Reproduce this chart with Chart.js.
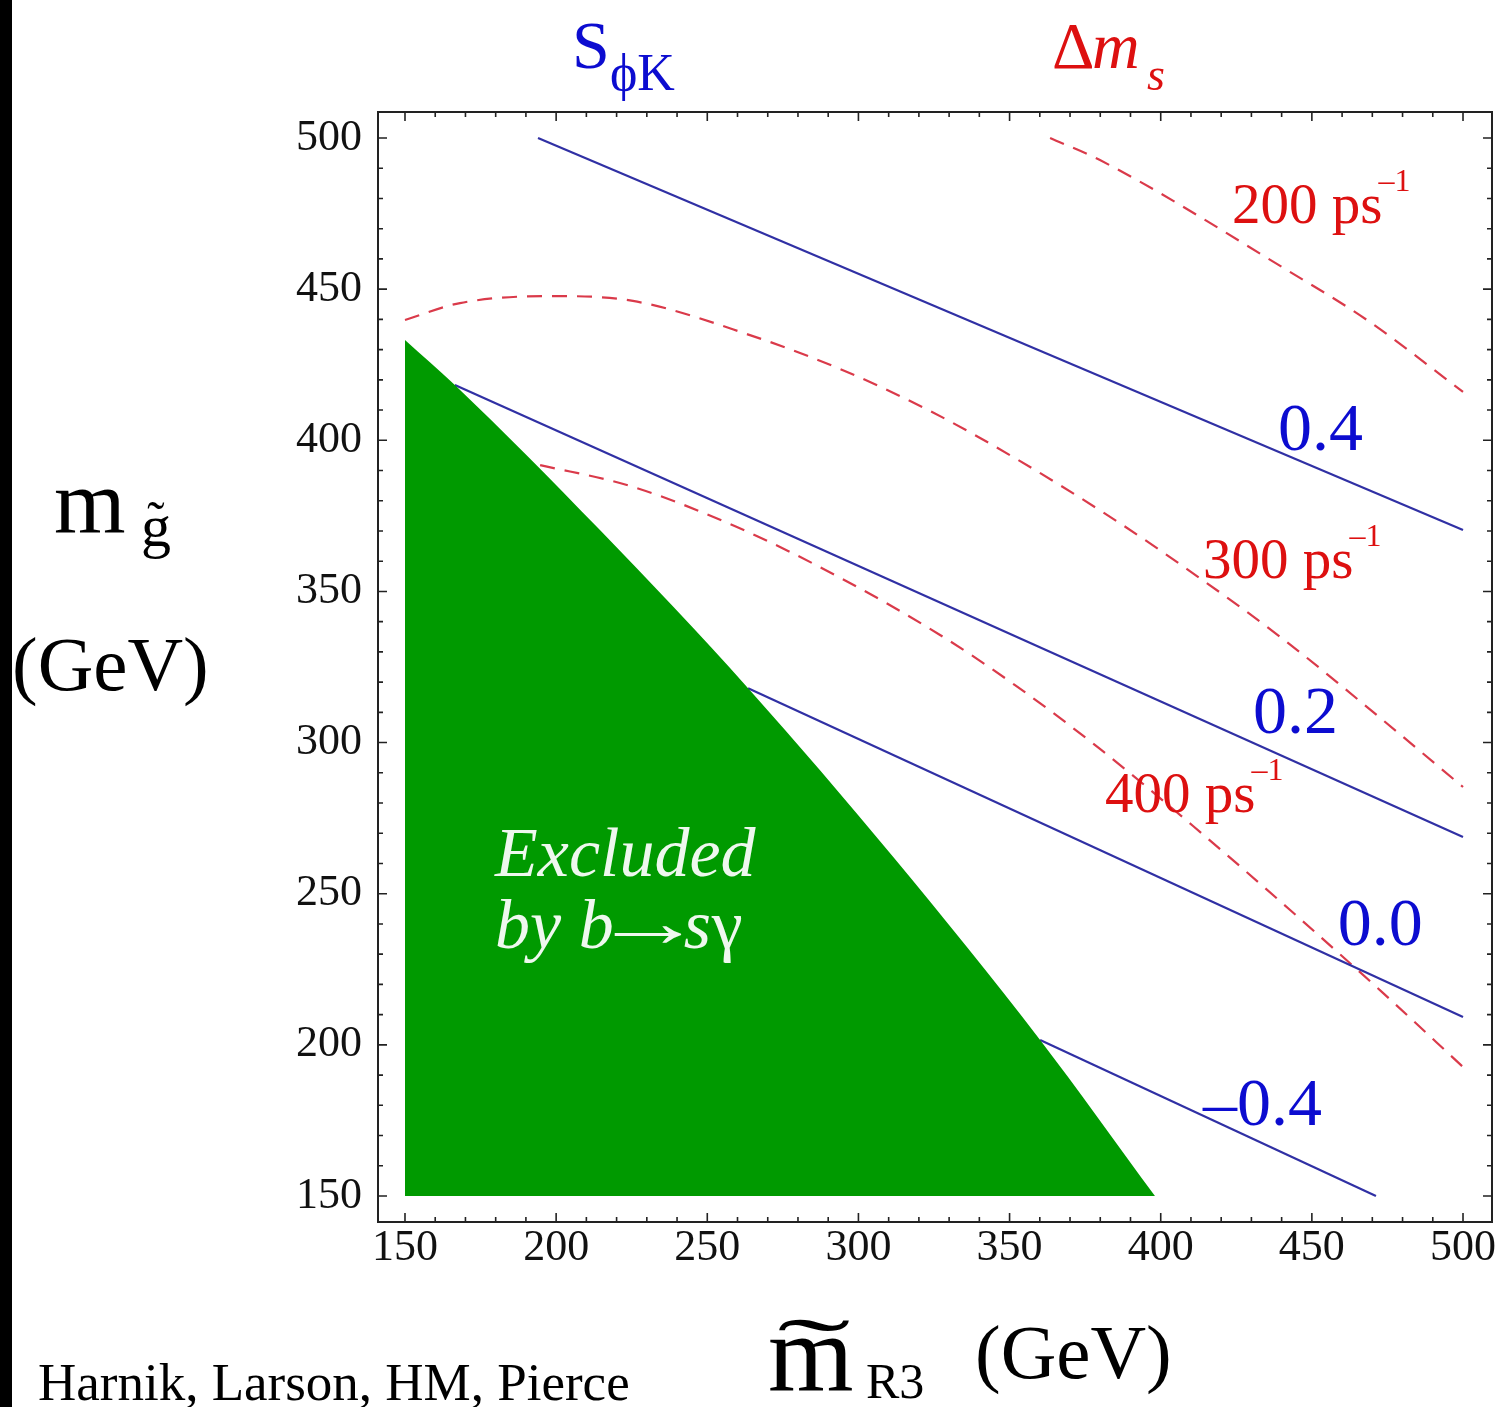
<!DOCTYPE html>
<html><head><meta charset="utf-8">
<script src="https://cdn.jsdelivr.net/npm/chart.js@4.4.1/dist/chart.umd.min.js"></script>
<style>html,body{margin:0;padding:0;background:#fff;overflow:hidden;} canvas{display:block;}</style>
</head><body>
<canvas id="c" width="1500" height="1407"></canvas>
<script>
// ---------- data ----------
const xTickLabels = [150, 200, 250, 300, 350, 400, 450, 500];
const yTickLabels = [150, 200, 250, 300, 350, 400, 450, 500];

// region excluded by b -> s gamma (upper boundary)
const excludedX = [150, 166.5, 214.5, 263.5, 311.8, 360.1, 398.1];
const excludedY = [433.2, 418.3, 370.3, 318.0, 261.8, 201.6, 150];

// S_phiK contours (solid blue)
const sPos04X = [194.0, 500];   const sPos04Y = [500, 370.3];
const sPos02X = [166.5, 500];   const sPos02Y = [418.3, 268.8];
const sZeroX  = [263.5, 500];   const sZeroY  = [318.0, 209.2];
const sNeg04X = [360.1, 471.2]; const sNeg04Y = [201.6, 150];

// Delta m_s contours (dashed red)
const dm200X = [363.4, 379.9, 441.8, 468.2, 500];
const dm200Y = [500, 492.7, 456.3, 439.8, 416.0];
const dm300X = [150, 168.2, 198.0, 225.4, 264.1, 293.9, 323.7, 351.8, 384.9, 408.7, 440.4, 472.2, 500];
const dm300Y = [439.8, 445.4, 447.7, 446.1, 434.8, 423.6, 409.7, 394.1, 373.6, 357.4, 334.3, 308.5, 285.3];
const dm400X = [194.7, 224.4, 259.8, 294.2, 327.0, 351.8, 379.9, 410.7, 442.8, 473.5, 500];
const dm400Y = [391.8, 384.9, 371.3, 354.4, 335.6, 319.0, 297.9, 272.4, 244.6, 217.2, 192.7];

// contour label anchors (data coords: left edge, baseline)
const sLabels  = [
  {text: '0.4',  x: 438.8, y: 396.8},
  {text: '0.2',  x: 430.5, y: 303.2},
  {text: '0.0',  x: 458.6, y: 233.0},
  {text: '\u20130.4', x: 414.0, y: 173.5}
];
const dmLabels = [
  {text: '200 ps', x: 423.6, y: 471.9},
  {text: '300 ps', x: 414.0, y: 354.4},
  {text: '400 ps', x: 381.6, y: 277.0}
];

// ---------- helpers ----------
const pts = (xs, ys) => xs.map((x, i) => ({x: x, y: ys[i]}));
const SERIF = "'Liberation Serif', 'DejaVu Serif', serif";
const BLUE_LINE = '#3030a4';
const RED_LINE = '#da3a4a';
const BLUE_TXT = '#0c0cd0';
const RED_TXT = '#dd1010';

function blueLine(xs, ys) {
  return {data: pts(xs, ys), borderColor: BLUE_LINE, borderWidth: 2.2, pointRadius: 0, fill: false, tension: 0};
}
function redDash(xs, ys) {
  return {data: pts(xs, ys), borderColor: RED_LINE, borderWidth: 2.2, borderDash: [15, 10], pointRadius: 0,
          fill: false, cubicInterpolationMode: 'monotone'};
}

const framePlugin = {
  id: 'frame',
  beforeDraw(chart) {
    const ctx = chart.ctx;
    ctx.save();
    ctx.fillStyle = '#fff';
    ctx.fillRect(0, 0, chart.width, chart.height);
    ctx.fillStyle = '#000';
    ctx.fillRect(0, 0, 12, chart.height);
    ctx.restore();
  },
  afterDatasetsDraw(chart) {
    const ctx = chart.ctx, a = chart.chartArea;
    const xs = chart.scales.x, ys = chart.scales.y;
    ctx.save();
    ctx.strokeStyle = '#222';
    ctx.lineWidth = 2;
    ctx.strokeRect(a.left, a.top, a.right - a.left, a.bottom - a.top);
    ctx.lineWidth = 1.6;
    ctx.beginPath();
    for (let v = 150; v <= 500; v += 10) {
      const len = (v % 50 === 0) ? 9 : 5;
      const px = xs.getPixelForValue(v);
      ctx.moveTo(px, a.bottom); ctx.lineTo(px, a.bottom - len);
      ctx.moveTo(px, a.top); ctx.lineTo(px, a.top + len);
      const py = ys.getPixelForValue(v);
      ctx.moveTo(a.left, py); ctx.lineTo(a.left + len, py);
      ctx.moveTo(a.right, py); ctx.lineTo(a.right - len, py);
    }
    ctx.stroke();
    ctx.restore();
  },
  afterDraw(chart) {
    const ctx = chart.ctx;
    const xs = chart.scales.x, ys = chart.scales.y;
    ctx.save();
    ctx.textBaseline = 'alphabetic';
    ctx.textAlign = 'left';

    // contour labels S_phiK
    ctx.fillStyle = BLUE_TXT;
    ctx.font = '68px ' + SERIF;
    sLabels.forEach(l => ctx.fillText(l.text, xs.getPixelForValue(l.x), ys.getPixelForValue(l.y)));

    // contour labels Delta m_s
    dmLabels.forEach(l => {
      const px = xs.getPixelForValue(l.x), py = ys.getPixelForValue(l.y);
      ctx.fillStyle = RED_TXT;
      ctx.font = '57px ' + SERIF;
      ctx.fillText(l.text, px, py);
      const w = ctx.measureText(l.text).width;
      ctx.font = '32px ' + SERIF;
      ctx.fillText('\u20131', px + w - 4, py - 32);
    });

    // Excluded label
    ctx.fillStyle = '#eef8ee';
    const ex = xs.getPixelForValue(179.8);
    ctx.font = 'italic 70px ' + SERIF;
    ctx.fillText('Excluded', ex, ys.getPixelForValue(255.9));
    const by = ys.getPixelForValue(232.0);
    ctx.fillText('by b', ex, by);
    let m = ctx.measureText('by b');
    let inkRight = ex + m.actualBoundingBoxRight;
    // long arrow, stretched horizontally
    ctx.font = '70px ' + SERIF;
    m = ctx.measureText('\u2192');
    const sx = 1.6;
    const arrowInkLeft = -m.actualBoundingBoxLeft;
    const arrowInkW = m.actualBoundingBoxRight + m.actualBoundingBoxLeft;
    ctx.save();
    ctx.translate(inkRight + 3 - arrowInkLeft * sx, by);
    ctx.scale(sx, 1);
    ctx.fillText('\u2192', 0, -2);
    ctx.restore();
    inkRight = inkRight + 3 + arrowInkW * sx;
    ctx.font = 'italic 70px ' + SERIF;
    m = ctx.measureText('s');
    ctx.fillText('s', inkRight + 2 + m.actualBoundingBoxLeft, by);
    inkRight = inkRight + 2 + m.actualBoundingBoxLeft + m.actualBoundingBoxRight;
    ctx.font = '70px ' + SERIF;
    m = ctx.measureText('\u03b3');
    ctx.fillText('\u03b3', inkRight + 1 + m.actualBoundingBoxLeft, by);

    // top legend-like labels
    ctx.fillStyle = BLUE_TXT;
    ctx.font = '68px ' + SERIF;
    ctx.fillText('S', 572, 68);
    ctx.font = '52px ' + SERIF;
    ctx.fillText('\u03d5K', 610, 90);

    ctx.fillStyle = RED_TXT;
    ctx.font = '66px ' + SERIF;
    ctx.fillText('\u0394', 1052, 68);
    ctx.font = 'italic 66px ' + SERIF;
    ctx.fillText('m', 1092, 68);
    ctx.font = 'italic 46px ' + SERIF;
    ctx.fillText('s', 1147, 90);

    // y-axis title
    ctx.fillStyle = '#000';
    ctx.font = '92px ' + SERIF;
    ctx.fillText('m', 54, 533);
    ctx.font = '60px ' + SERIF;
    ctx.fillText('g', 141, 546);
    ctx.font = '52px ' + SERIF;
    ctx.textAlign = 'center';
    ctx.fillText('\u02dc', 156, 538);
    ctx.textAlign = 'left';
    ctx.font = '77px ' + SERIF;
    ctx.fillText('(GeV)', 12, 690);

    // x-axis title
    ctx.font = '110px ' + SERIF;
    ctx.fillText('m', 768, 1390);
    ctx.save();
    ctx.translate(814, 1380);
    ctx.scale(2.5, 1);
    ctx.textAlign = 'center';
    ctx.font = '88px ' + SERIF;
    ctx.fillText('\u02dc', 0, 0);
    ctx.restore();
    ctx.font = '50px ' + SERIF;
    ctx.fillText('R3', 866, 1398);
    ctx.font = '77px ' + SERIF;
    ctx.fillText('(GeV)', 975, 1378);

    // credit
    ctx.font = '53px ' + SERIF;
    ctx.fillText('Harnik, Larson, HM, Pierce', 38, 1400);
    ctx.restore();
  }
};

new Chart(document.getElementById('c'), {
  type: 'line',
  data: {
    datasets: [
      {data: pts(excludedX, excludedY), borderWidth: 0, borderColor: 'rgba(0,0,0,0)', backgroundColor: '#009a00',
       pointRadius: 0, fill: {value: 150}, cubicInterpolationMode: 'monotone'},
      blueLine(sPos04X, sPos04Y),
      blueLine(sPos02X, sPos02Y),
      blueLine(sZeroX, sZeroY),
      blueLine(sNeg04X, sNeg04Y),
      redDash(dm200X, dm200Y),
      redDash(dm300X, dm300Y),
      redDash(dm400X, dm400Y)
    ]
  },
  options: {
    responsive: false,
    animation: false,
    devicePixelRatio: 1,
    layout: {padding: {left: 0, top: 112, right: 8, bottom: 0}},
    plugins: {legend: {display: false}, tooltip: {enabled: false}, title: {display: false}},
    scales: {
      x: {
        type: 'linear', min: 141.07, max: 509.59,
        grid: {display: false, drawTicks: false}, border: {display: false},
        afterBuildTicks: s => { s.ticks = xTickLabels.map(v => ({value: v})); },
        afterFit: s => { s.height = 185; },
        ticks: {font: {family: SERIF, size: 44}, color: '#111', padding: 0, maxRotation: 0, autoSkip: false}
      },
      y: {
        type: 'linear', min: 141.4, max: 508.6,
        grid: {display: false, drawTicks: false}, border: {display: false},
        afterBuildTicks: s => { s.ticks = yTickLabels.map(v => ({value: v})); },
        afterFit: s => { s.width = 378; },
        ticks: {font: {family: SERIF, size: 44}, color: '#111', padding: 16, autoSkip: false}
      }
    }
  },
  plugins: [framePlugin]
});
</script>
</body></html>
